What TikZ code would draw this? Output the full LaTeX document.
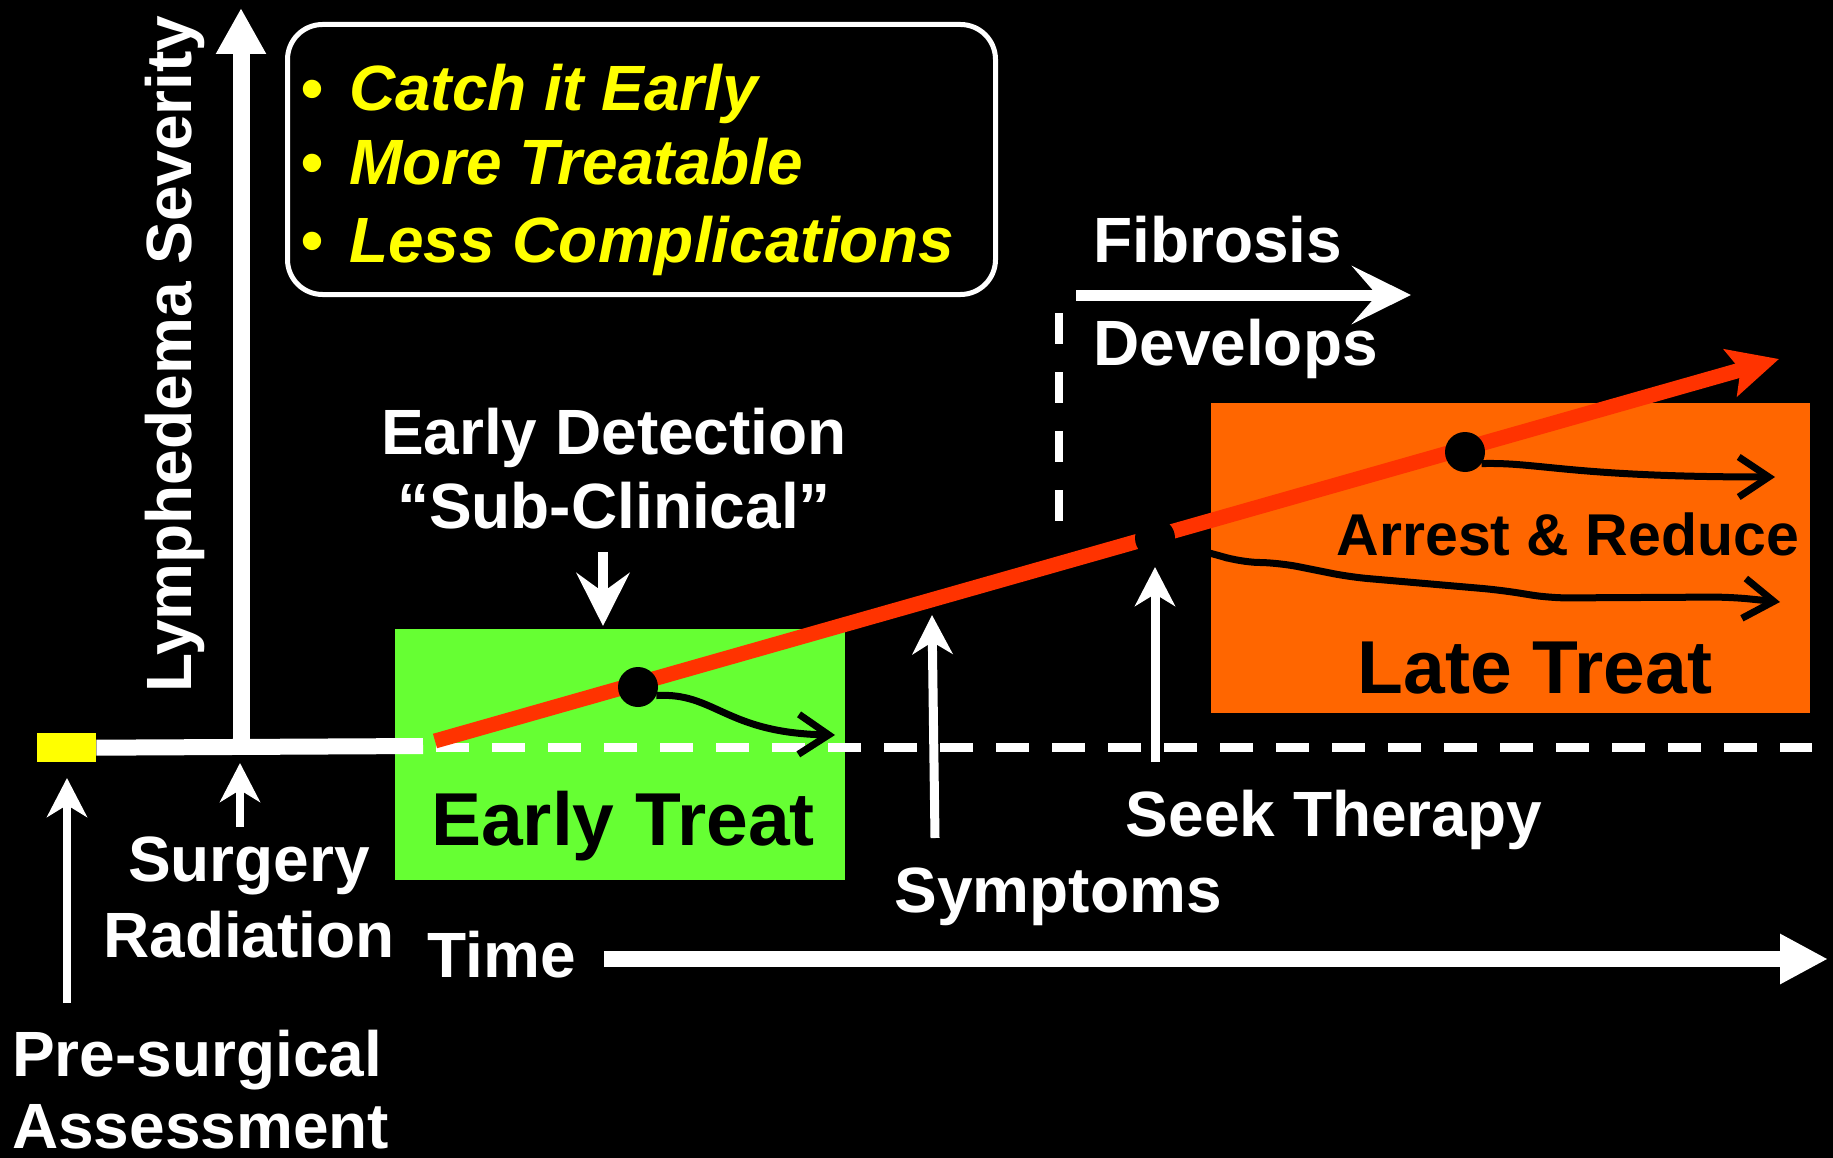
\documentclass[tikz,border=0pt]{standalone}
\usepackage{fontspec}
\setmainfont{Liberation Sans}
\usetikzlibrary{arrows.meta}
\definecolor{earlygreen}{HTML}{66FF33}
\definecolor{lateorange}{HTML}{FF6600}
\definecolor{redline}{HTML}{FF3300}
\definecolor{hiyellow}{HTML}{FFFF00}
\begin{document}
\begin{tikzpicture}[x=1pt,y=-1pt,
  lbl/.style={text=white, inner sep=0pt, anchor=base, font=\bfseries\fontsize{64}{64}\selectfont},
  blbl/.style={text=black, inner sep=0pt, anchor=base, font=\bfseries\fontsize{75}{75}\selectfont},
  bullet/.style={text=hiyellow, inner sep=0pt, anchor=base west, font=\bfseries\itshape\fontsize{64}{64}\selectfont},
  thinarrow/.style={draw=white, line width=9pt, -{Stealth[length=39pt,width=40pt,inset=12pt]}},
  bigarrow/.style={draw=white, line width=16pt, -{Triangle[length=48pt,width=47pt]}},
  barb/.style={draw=black, line width=7pt, line join=round, -{Straight Barb[length=30pt,width=40pt]}},
  dot/.style={circle, fill=black, inner sep=0pt, minimum size=40pt},
  dashline/.style={draw=white, line width=9pt, dash pattern=on 33pt off 23pt}
]
\fill[black] (0,0) rectangle (1833,1158);
\useasboundingbox (0,0) rectangle (1833,1158);

% boxes
\node[fill=earlygreen, inner sep=0pt, minimum width=450pt, minimum height=251pt, anchor=north west] (green) at (395,629) {};
\node[fill=lateorange, inner sep=0pt, minimum width=599pt, minimum height=310pt, anchor=north west] (orange) at (1211,403) {};
\node[draw=white, line width=5pt, rounded corners=35pt, inner sep=0pt, minimum width=708pt, minimum height=270pt, anchor=north west] (bulletbox) at (285,22) {};
\node[fill=hiyellow, inner sep=0pt, minimum width=59pt, minimum height=29pt, anchor=north west] (presurg) at (37,733) {};

% baseline and dashed continuation
\coordinate (axisfoot) at (241,746);
\coordinate (solidend) at (423,746);
\coordinate (dashstart) at (436,747);
\coordinate (dashend) at (1812,747);
\draw[white, line width=16pt] (presurg.east) -- (solidend);
\draw[dashline] (dashstart) -- (dashend);

% vertical axis
\coordinate (axistop) at (241,8);
\draw[white, line width=17pt, -{Triangle[length=46pt,width=47pt]}] (axisfoot) -- (axistop);

% fibrosis vertical dashed
\coordinate (fibtop) at (1059,313);
\coordinate (fibbot) at (1059,522);
\draw[white, line width=8pt, dash pattern=on 31pt off 28pt] (fibtop) -- (fibbot);

% red progression line
\coordinate (redstart) at (435,741);
\coordinate (redend) at (1779,359);
\draw[redline, line width=15pt, -{Stealth[length=50pt,width=48pt,inset=10pt]}] (redstart) -- (redend);

% dots
\node[dot] (d1) at (638,687) {};
\node[dot] (d2) at (1155,538) {};
\node[dot] (d3) at (1465,452) {};

% black treatment curves
\coordinate (e1) at (835,735);
\coordinate (e2) at (1775,477);
\coordinate (e3) at (1780,602);
\draw[barb] (d1.-25) .. controls (715,692) and (725,733) .. (e1);
\draw[barb] (d3.-35) .. controls (1540,462) and (1570,477) .. (e2);
\draw[barb, rounded corners=18pt] (d2.-20) -- (1211,553) -- (1240,562) -- (1280,563) -- (1350,577) -- (1500,590) -- (1550,598) -- (1730,597) -- (e3);

% fibrosis arrow
\coordinate (fibA) at (1076,295);
\coordinate (fibB) at (1411,295);
\draw[white, line width=11pt, -{Stealth[length=59pt,width=58pt,inset=25pt]}] (fibA) -- (fibB);

% time arrow
\coordinate (timeA) at (604,959);
\coordinate (timeB) at (1828,959);
\draw[bigarrow] (timeA) -- (timeB);

% thin arrows
\coordinate (psA) at (67,1003);
\coordinate (psB) at (67,778);
\draw[thinarrow, line width=8pt] (psA) -- (psB);
\coordinate (sgA) at (240,827);
\coordinate (sgB) at (240,763);
\draw[thinarrow, line width=8pt] (sgA) -- (sgB);
\coordinate (syA) at (935,838);
\coordinate (syB) at (932,615);
\draw[thinarrow] (syA) -- (syB);
\coordinate (stA) at (1155,762);
\coordinate (stB) at (1155,567);
\draw[thinarrow] (stA) -- (stB);
\coordinate (edA) at (603,552);
\coordinate (edB) at (603,626);
\draw[white, line width=10pt, -{Stealth[length=53pt,width=53pt,inset=19pt]}] (edA) -- (edB);

% texts
\node[lbl, rotate=90] (sev) at (191,354) {Lymphedema Severity};
\node[bullet] (b1) at (300,111) {•};
\node[bullet] (b2) at (300,185) {•};
\node[bullet] (b3) at (300,263) {•};
\node[bullet] (t1) at (349,111) {Catch it Early};
\node[bullet] (t2) at (349,185) {More Treatable};
\node[bullet] (t3) at (349,263) {Less Complications};
\node[lbl] (ed1) at (614,454) {Early Detection};
\node[lbl] (ed2) at (614,528) {“Sub-Clinical”};
\node[blbl] (etreat) at (623,845) {Early Treat};
\node[lbl, anchor=base west] (fib1) at (1093,263) {Fibrosis};
\node[lbl, anchor=base west] (fib2) at (1093,365) {Develops};
\node[blbl, font=\bfseries\fontsize{59}{59}\selectfont] (arrest) at (1568,555) {Arrest \& Reduce};
\node[blbl] (ltreat) at (1535,693) {Late Treat};
\node[lbl] (seek) at (1334,836) {Seek Therapy};
\node[lbl] (symp) at (1058,912) {Symptoms};
\node[lbl] (time) at (502,977) {Time};
\node[lbl] (surg) at (249,881) {Surgery};
\node[lbl] (rad) at (249,957) {Radiation};
\node[lbl, anchor=base west] (pre1) at (12,1076) {Pre-surgical};
\node[lbl, anchor=base west] (pre2) at (12,1148) {Assessment};
\end{tikzpicture}
\end{document}
